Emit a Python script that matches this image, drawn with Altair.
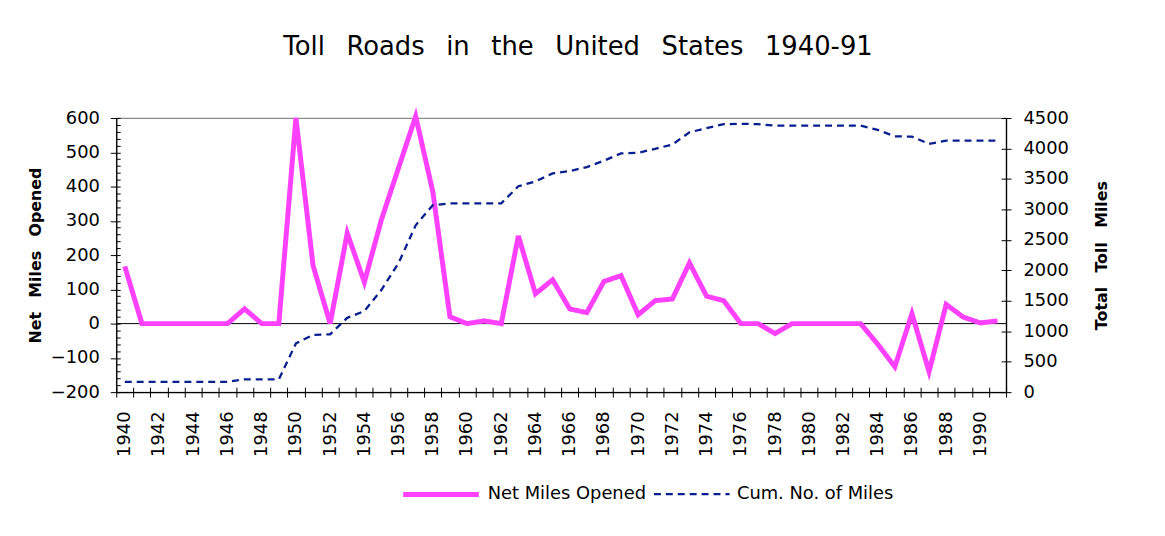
import altair as alt
import pandas as pd

years = list(range(1940, 1992))
net_miles = [167, 0, 0, 0, 0, 0, 0, 43, 0, 0,
             600, 170, 0, 264, 121, 304, 455, 605, 385, 20,
             0, 8, 0, 256, 87, 128, 43, 32, 123, 140,
             26, 67, 72, 177, 80, 67, 0, 0, -29, 0,
             0, 0, 0, 0, -60, -126, 29, -140, 56, 19,
             2, 8]
cum_miles = [170, 170, 170, 170, 170, 170, 170, 210, 210, 210,
             800, 940, 950, 1220, 1330, 1680, 2120, 2740, 3070, 3100,
             3100, 3100, 3100, 3380, 3460, 3590, 3630, 3695, 3800, 3920,
             3930, 3995, 4065, 4265, 4335, 4400, 4405, 4400, 4375, 4375,
             4375, 4375, 4375, 4375, 4305, 4200, 4195, 4075, 4130, 4130,
             4130, 4130]
series_names = ["Net Miles Opened", "Cum. No. of Miles"]
left_ticks = list(range(-200, 601, 100))
left_minor_ticks = list(range(-200, 601, 20))
right_ticks = list(range(0, 4501, 500))

net_df = pd.DataFrame({"year": years, "value": net_miles, "series": series_names[0]})
cum_df = pd.DataFrame({"year": years, "value": cum_miles, "series": series_names[1]})
zero_df = pd.DataFrame({"value": [0]})

FONT = "DejaVu Sans"
PINK = "#ff40ff"
NAVY = "#0a1f8f"
NB = "\u00a0"
GAP = NB + NB + "\u2009"
W = 896
H = 276

x_scale = alt.Scale(type="band", paddingInner=0, paddingOuter=0)
left_scale = alt.Scale(domain=[-200, 600], nice=False, zero=False)
right_scale = alt.Scale(domain=[0, 4500], nice=False)

color = alt.Color("series:N",
                  scale=alt.Scale(domain=series_names, range=[PINK, NAVY]),
                  legend=alt.Legend(title=None, orient="none", legendX=286, legendY=338,
                                    direction="horizontal", symbolType="stroke",
                                    symbolSize=5800, labelFontSize=18, labelFont=FONT,
                                    labelColor="black", labelOffset=6, columnPadding=2,
                                    labelLimit=400))
dash = alt.StrokeDash("series:N",
                      scale=alt.Scale(domain=series_names, range=[[1, 0], [7, 5]]),
                      legend=alt.Legend(title=None))
swidth = alt.StrokeWidth("series:N",
                         scale=alt.Scale(domain=series_names, range=[5, 2.3]),
                         legend=alt.Legend(title=None))

x_main = alt.X("year:O", scale=x_scale,
               axis=alt.Axis(title=None, tickBand="extent",
                             labelExpr="datum.value % 2 == 0 ? datum.label : ''",
                             labelAngle=270, labelFontSize=18, labelPadding=14,
                             tickSize=5, labelOverlap=False))

left_axis = alt.Axis(title=f"Net{GAP}Miles{GAP}Opened", values=left_ticks, tickCount=9,
                     tickSize=6, labelFontSize=18, labelPadding=11, labelOverlap=False,
                     titleFontSize=16, titleFontWeight="bold", titlePadding=7)

net_line = alt.Chart(net_df).mark_line(strokeJoin="miter", strokeMiterLimit=4).encode(
    x=x_main,
    y=alt.Y("value:Q", scale=left_scale, axis=left_axis),
    color=color, strokeDash=dash, strokeWidth=swidth,
)
zero_rule = alt.Chart(zero_df).mark_rule(color="black", strokeWidth=1).encode(
    y=alt.Y("value:Q", scale=left_scale, axis=left_axis)
)
left_layer = alt.layer(zero_rule, net_line)

cum_line = alt.Chart(cum_df).mark_line().encode(
    x=alt.X("year:O", scale=x_scale, axis=None),
    y=alt.Y("value:Q", scale=right_scale,
            axis=alt.Axis(title=f"Total{GAP}Toll{GAP}Miles", orient="right", format="d",
                          values=right_ticks, tickSize=5, labelFontSize=18, labelPadding=12,
                          labelOverlap=False,
                          titleFontSize=16, titleFontWeight="bold", titlePadding=41,
                          titleAngle=270)),
    color=color, strokeDash=dash, strokeWidth=swidth,
)

# inward tick marks (left minor ticks and top-of-bottom-axis ticks)
minor_layer = alt.Chart(net_df).mark_line(opacity=0).encode(
    x=alt.X("year:O", scale=x_scale,
            axis=alt.Axis(title=None, orient="top", offset=-H, tickBand="extent",
                          labels=False, domain=False, tickSize=5)),
    y=alt.Y("value:Q", scale=left_scale,
            axis=alt.Axis(title=None, orient="right", offset=-W, values=left_minor_ticks,
                          labels=False, domain=False, tickSize=4)),
)
right_inner = alt.Chart(cum_df).mark_line(opacity=0).encode(
    x=alt.X("year:O", scale=x_scale, axis=None),
    y=alt.Y("value:Q", scale=right_scale,
            axis=alt.Axis(title=None, orient="left", offset=-W, values=right_ticks,
                          labels=False, domain=False, tickSize=5)),
)

chart = alt.layer(left_layer, cum_line, minor_layer, right_inner).resolve_scale(
    y="independent", x="independent"
).properties(
    width=W, height=H,
    autosize=alt.AutoSizeParams(type="none"),
    padding={"left": 109, "top": 109, "right": 152, "bottom": 135},
    title=alt.TitleParams(text=f"Toll{GAP}Roads{GAP}in{GAP}the{GAP}United{GAP}States{GAP}1940-91",
                          fontSize=26, font=FONT, fontWeight="normal", color="black",
                          anchor="middle", offset=47, dx=17),
).configure_view(
    stroke="#8c8c8c", strokeWidth=1.2
).configure_axis(
    labelFont=FONT, titleFont=FONT, labelColor="black", titleColor="black",
    domainColor="black", tickColor="black", domainWidth=1.3, tickWidth=1, grid=False
)

chart.save("out.html", embed_options={"renderer": "svg", "actions": False})
